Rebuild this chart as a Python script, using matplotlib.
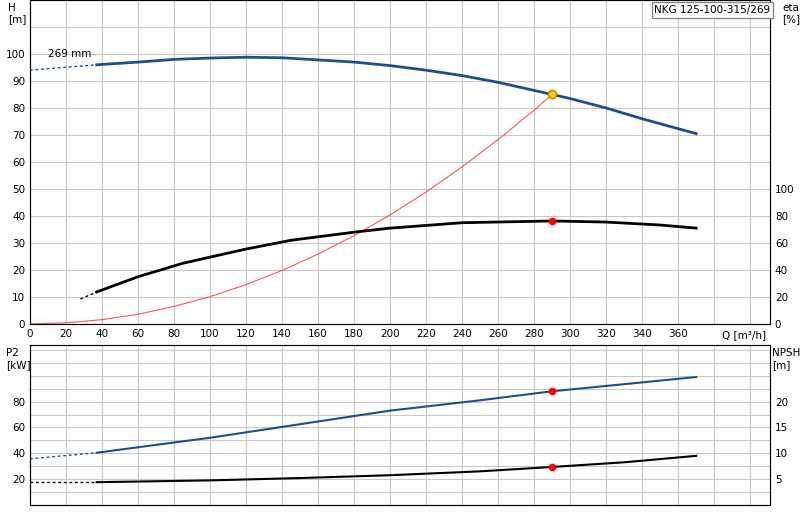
import matplotlib
matplotlib.use("Agg")
import matplotlib.pyplot as plt
import numpy as np

# --- data ---
q_h = [37, 60, 80, 100, 120, 140, 160, 180, 200, 220, 240, 260, 280, 290, 300, 320, 340, 370]
h_vals = [96, 97, 98, 98.5, 98.8, 98.6, 97.8, 97, 95.7, 94, 92, 89.5, 86.5, 85, 83.5, 80, 76, 70.5]
q_h_dash = [0, 37]
h_dash = [94, 96]

q_eta = [37, 60, 85, 120, 145, 180, 200, 240, 290, 320, 350, 370]
eta_vals = [23.7, 35, 45, 55.5, 62, 68, 71, 75, 76.3, 75.5, 73.3, 71]
q_eta_dash = [28, 37]
eta_dash = [18.5, 23.7]

q_sys = [0, 20, 40, 60, 80, 100, 120, 140, 160, 180, 200, 220, 240, 260, 280, 290]
h_sys = [0, 0.4, 1.6, 3.6, 6.5, 10.1, 14.6, 19.8, 25.9, 32.7, 40.4, 48.9, 58.2, 68.3, 79.2, 85]

q_p2 = [37, 100, 150, 200, 250, 290, 330, 370]
p2_vals = [40.4, 52, 62.5, 73, 81, 88, 93.5, 99]
q_p2_dash = [0, 37]
p2_dash = [35.7, 40.4]

q_npsh = [37, 100, 150, 200, 250, 290, 330, 370]
npsh_vals = [4.4, 4.75, 5.2, 5.75, 6.5, 7.35, 8.25, 9.5]
q_npsh_dash = [0, 37]
npsh_dash = [4.4, 4.4]

duty_q = 290
duty_h = 85
duty_eta = 76.3
duty_p2 = 88
duty_npsh = 7.35

blue = "#1f4e8c"
grid_c = "#c8c8c8"

fig = plt.figure(figsize=(8, 5.2), dpi=100)
ax1 = fig.add_axes([0.0375, 0.377, 0.925, 0.623])
ax2 = fig.add_axes([0.0375, 0.029, 0.925, 0.308])

for ax in (ax1, ax2):
    ax.set_xlim(0, 411)
    ax.set_xticks(np.arange(0, 411, 20))
    ax.grid(True, color=grid_c, lw=0.8)
    ax.tick_params(labelsize=7.5, length=0)
    for s in ax.spines.values():
        s.set_color("#888888")

ax1.set_ylim(0, 120)
ax1.set_yticks(np.arange(0, 120, 10))
ax1.set_yticklabels([str(v) if v <= 100 else "" for v in range(0, 120, 10)])
ax1.set_xticklabels([str(v) if v <= 360 else "" for v in range(0, 411, 20)])

ax1.plot(q_h, h_vals, color=blue, lw=2)
ax1.plot(q_h_dash, h_dash, color=blue, lw=1, ls=(0, (2, 2)))
ax1.plot(q_sys, h_sys, color="#ff5555", lw=0.8)
ax1.plot(duty_q, duty_h, "o", ms=6, mfc="#ffd000", mec="#c08000", zorder=5)
ax1.text(10, 99, "269 mm", fontsize=7.5)

ax1r = ax1.twinx()
ax1r.set_ylim(0, 240)
ax1r.set_yticks([0, 20, 40, 60, 80, 100])
ax1r.tick_params(labelsize=7.5, length=0)
ax1r.plot(q_eta, eta_vals, color="black", lw=2)
ax1r.plot(q_eta_dash, eta_dash, color="black", lw=1, ls=(0, (2, 2)))
ax1r.plot(duty_q, duty_eta, "o", ms=4.5, color="red", zorder=5)

fig.text(0.01, 0.995, "H\n[m]", fontsize=7.5, ha="left", va="top")
fig.text(0.978, 0.995, "eta\n[%]", fontsize=7.5, ha="left", va="top")
ax1.text(0.935, -0.035, "Q [m³/h]", transform=ax1.transAxes, fontsize=7.5, ha="left", va="center")
fig.text(0.818, 0.99, "NKG 125-100-315/269", fontsize=7.5,
         ha="left", va="top", bbox=dict(fc="white", ec="#888888", pad=2))

ax2.set_ylim(0, 124)
ax2.set_yticks(np.arange(0, 124, 10))
ax2.set_yticklabels([str(v) if v in (20, 40, 60, 80) else "" for v in range(0, 124, 10)])
ax2.set_xticklabels([])
ax2.plot(q_p2, p2_vals, color=blue, lw=1.5)
ax2.plot(q_p2_dash, p2_dash, color=blue, lw=1, ls=(0, (2, 2)))
ax2.plot(duty_q, duty_p2, "o", ms=4.5, color="red", zorder=5)

ax2r = ax2.twinx()
ax2r.set_ylim(0, 31)
ax2r.set_yticks([5, 10, 15, 20])
ax2r.tick_params(labelsize=7.5, length=0)
ax2r.plot(q_npsh, npsh_vals, color="black", lw=1.5)
ax2r.plot(q_npsh_dash, npsh_dash, color="black", lw=1, ls=(0, (2, 2)))
ax2r.plot(duty_q, duty_npsh, "o", ms=4.5, color="red", zorder=5)

fig.text(0.008, 0.33, "P2\n[kW]", fontsize=7.5, ha="left", va="top")
fig.text(0.965, 0.33, "NPSH\n[m]", fontsize=7.5, ha="left", va="top")

fig.savefig("out.png", dpi=100)
